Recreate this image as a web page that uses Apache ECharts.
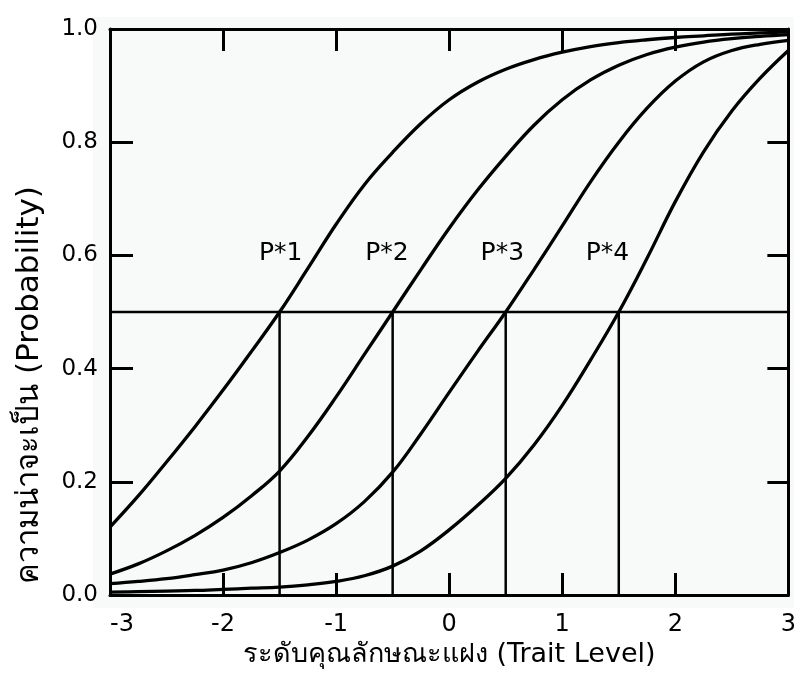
<!DOCTYPE html>
<html>
<head>
<meta charset="utf-8">
<script src="https://cdn.jsdelivr.net/npm/echarts@6/dist/echarts.min.js"></script>
<style>
html,body{margin:0;padding:0;background:#fff;}
#chart{width:799px;height:675px;}
</style>
</head>
<body>
<div id="chart"></div>
<script>
// ---- data ----
const theta = [-3,-2.75,-2.5,-2.25,-2,-1.75,-1.5,-1.25,-1,-0.75,-0.5,-0.25,0,0.25,0.5,0.75,1,1.25,1.5,1.75,2,2.25,2.5,2.75,3];
const p1 = [0.12,0.175,0.235,0.297,0.362,0.43,0.5,0.577,0.655,0.725,0.782,0.833,0.875,0.906,0.929,0.946,0.959,0.969,0.976,0.981,0.985,0.988,0.991,0.993,0.995];
const p2 = [0.037,0.055,0.078,0.105,0.137,0.175,0.219,0.28,0.35,0.425,0.5,0.575,0.648,0.715,0.775,0.83,0.875,0.91,0.936,0.955,0.968,0.977,0.983,0.987,0.99];
const p3 = [0.02,0.024,0.029,0.036,0.044,0.057,0.075,0.097,0.126,0.165,0.217,0.285,0.358,0.43,0.5,0.575,0.652,0.73,0.8,0.86,0.908,0.942,0.962,0.973,0.98];
const p4 = [0.005,0.006,0.007,0.008,0.01,0.012,0.014,0.018,0.024,0.034,0.051,0.078,0.115,0.158,0.206,0.265,0.335,0.415,0.5,0.595,0.695,0.783,0.855,0.913,0.962];
const curveNames = ['P*1','P*2','P*3','P*4'];
const thresholds = [-1.5,-0.5,0.5,1.5];
const cutLevel = 0.5;
const labelX = [-1.49,-0.55,0.47,1.40];
const labelY = 0.604;
const xTicks = [-3,-2,-1,0,1,2,3];
const yTicks = ['0.0','0.2','0.4','0.6','0.8','1.0'];
const xTitle = 'ระดับคุณลักษณะแฝง (Trait Level)';
const yTitle = 'ความน่าจะเป็น (Probability)';

// ---- chart ----
const FONT = '"DejaVu Sans", "Noto Sans", sans-serif';
const chart = echarts.init(document.getElementById('chart'), null, {renderer:'canvas'});
const curves = [p1,p2,p3,p4];
const series = [];
curves.forEach((arr,i)=>{
  series.push({
    name: curveNames[i], type:'line', smooth:0.4, showSymbol:false, silent:true,
    data: theta.map((t,j)=>[t,arr[j]]),
    lineStyle:{color:'#000', width:3.3}, z:5
  });
});
series.push({
  type:'line', showSymbol:false, silent:true,
  data:[[-3,cutLevel],[3,cutLevel]],
  lineStyle:{color:'#000', width:2.3}, z:4
});
thresholds.forEach(t=>{
  series.push({
    type:'line', showSymbol:false, silent:true,
    data:[[t,0],[t,cutLevel]],
    lineStyle:{color:'#000', width:2.5}, z:4
  });
});
series.push({
  type:'scatter', symbolSize:0, silent:true,
  itemStyle:{opacity:1},
  data: labelX.map((x,i)=>({value:[x,labelY], name:curveNames[i]})),
  label:{show:true, position:'inside', formatter:p=>p.name, color:'#000', opacity:1,
         fontFamily:FONT, fontSize:25}
});

const tickStyle = {color:'#000', width:3};
chart.setOption({
  animation:false,
  backgroundColor:'#fff',
  graphic:[
    {type:'rect', z:-10, shape:{x:93,y:17,width:701,height:591}, style:{fill:'#f8f9f9'}},
    {type:'text', x:30, y:385, rotation:Math.PI/2,
     style:{text:yTitle, textAlign:'center', textVerticalAlign:'middle',
            font:'31px ' + FONT, fill:'#000'}}
  ],
  grid:{left:110, right:9, top:29, bottom:80, containLabel:false},
  xAxis:[
    {type:'value', min:-3, max:3, interval:1, position:'bottom',
     name:xTitle, nameLocation:'middle', nameGap:44,
     nameTextStyle:{color:'#000', fontFamily:FONT, fontSize:27},
     axisLine:{onZero:false, lineStyle:{color:'#000', width:3}},
     axisTick:{inside:true, length:22, lineStyle:tickStyle},
     axisLabel:{color:'#000', fontFamily:FONT, fontSize:24, margin:18,
                alignMinLabel:'left',
                formatter:v=>String(xTicks[Math.round(v)+3])},
     splitLine:{show:false}},
    {type:'value', min:-3, max:3, interval:1, position:'top',
     axisLine:{onZero:false, lineStyle:{color:'#000', width:3}},
     axisTick:{inside:true, length:22, lineStyle:tickStyle},
     axisLabel:{show:false}, splitLine:{show:false}}
  ],
  yAxis:[
    {type:'value', min:0, max:1, interval:0.2, position:'left',
     axisLine:{show:true, onZero:false, lineStyle:{color:'#000', width:3}},
     axisTick:{show:true, inside:true, length:23, lineStyle:tickStyle},
     axisLabel:{color:'#000', fontFamily:FONT, fontSize:23, margin:12,
                formatter:v=>yTicks[Math.round(v*5)]},
     splitLine:{show:false}},
    {type:'value', min:0, max:1, interval:0.2, position:'right',
     axisLine:{show:true, onZero:false, lineStyle:{color:'#000', width:3}},
     axisTick:{show:true, inside:true, length:21, lineStyle:tickStyle},
     axisLabel:{show:false}, splitLine:{show:false}}
  ],
  series: series
});
</script>
</body>
</html>
